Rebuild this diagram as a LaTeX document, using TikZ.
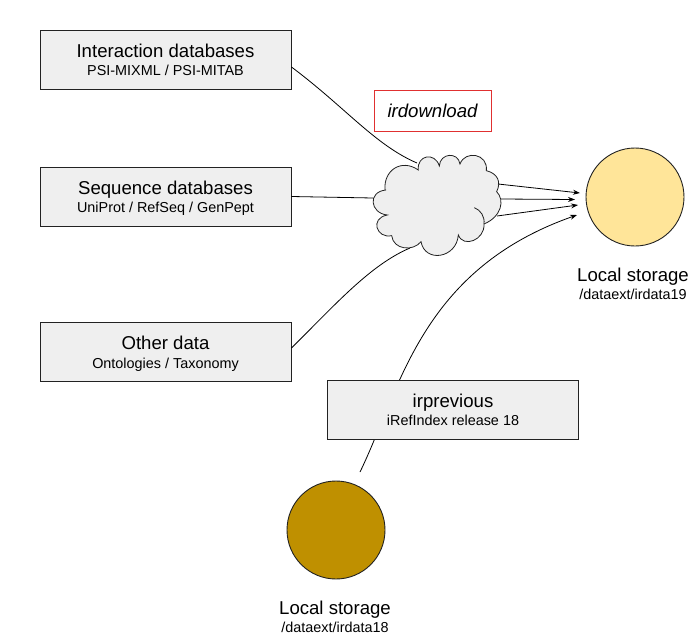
\documentclass[tikz,border=0pt]{standalone}
\usepackage{fontspec}
\setmainfont{Liberation Sans}
\usetikzlibrary{arrows.meta}
\definecolor{boxfill}{HTML}{EFEFEF}
\definecolor{lineink}{HTML}{222222}
\definecolor{paleyellow}{HTML}{FFE599}
\definecolor{darkgold}{HTML}{BF9000}
\definecolor{redline}{HTML}{E03030}
\tikzset{
  databox/.style={draw=lineink,fill=boxfill,line width=0.9pt,minimum width=251pt,minimum height=59pt,inner sep=0pt,align=center},
  storage/.style={circle,draw=lineink,line width=0.9pt,minimum size=98pt,inner sep=0pt},
  link/.style={draw=black,line width=0.8pt},
  feed/.style={link,-{Stealth[length=7pt,width=5pt]}},
  cloudline/.style={draw=lineink,line width=0.8pt},
  storelabel/.style={align=center,inner sep=0pt}
}
\newcommand{\bigline}[1]{{\fontsize{18.6}{21}\selectfont #1}}
\newcommand{\smallline}[1]{{\fontsize{14.4}{16}\selectfont #1}}
\newcommand{\twolines}[2]{\rule[-4pt]{0pt}{22pt}\bigline{#1}\\\rule[-4pt]{0pt}{17.5pt}\smallline{#2}}
\begin{document}
\begin{tikzpicture}[x=1pt,y=-1pt]
\useasboundingbox (0,0) rectangle (698,640);
\coordinate (cTop) at (417,163);
\coordinate (cLeft) at (373,198);
\coordinate (cBottom) at (410,248);
\coordinate (cOutA) at (498,184);
\coordinate (cOutB) at (501,199);
\coordinate (cOutC) at (497,216);
\coordinate (tipA) at (580,193);
\coordinate (tipB) at (575,199.5);
\coordinate (tipC) at (578,205);
\coordinate (tipD) at (577,215);
\coordinate (oldStart) at (360,472);
\node[databox] (interaction) at (165.5,59.5) {\twolines{Interaction databases}{PSI-MIXML / PSI-MITAB}};
\node[databox] (sequence) at (165.5,196.5) {\twolines{Sequence databases}{UniProt / RefSeq / GenPept}};
\node[databox] (other) at (165.5,352) {\twolines{Other data}{Ontologies / Taxonomy}};
\draw[link] (interaction.east |- 0,67) .. controls (345,107) and (375,145) .. (cTop);
\draw[link] (sequence.east) -- (cLeft);
\draw[link] (other.east |- 0,348) .. controls (335,305) and (370,265) .. (cBottom);
\draw[feed] (oldStart) .. controls (400,390) and (420,270) .. (tipD);
\node[databox] (previous) at (453,409.5) {\twolines{irprevious}{iRefIndex release 18}};
\begin{scope}[shift={(360,140)},scale=0.3333]
\draw[cloudline,fill=boxfill]
  (75,150) .. controls (70,90) and (125,55) .. (175,90)
  .. controls (170,45) and (225,35) .. (238,78)
  .. controls (240,38) and (295,35) .. (300,72)
  .. controls (315,30) and (385,40) .. (379,92)
  .. controls (412,100) and (425,125) .. (410,155)
  .. controls (435,180) and (425,230) .. (372,252)
  .. controls (375,300) and (310,325) .. (295,285)
  .. controls (290,355) and (195,370) .. (183,305)
  .. controls (160,335) and (100,330) .. (95,287)
  .. controls (50,297) and (28,235) .. (82,225)
  .. controls (30,220) and (22,155) .. (78,150) -- cycle;
\draw[cloudline]
  (343,203) .. controls (362,210) and (375,230) .. (372,252);
\end{scope}
\draw[feed] (cOutA) -- (tipA);
\draw[feed] (cOutB) -- (tipB);
\draw[feed] (cOutC) -- (tipC);
\node[draw=redline,line width=0.8pt,minimum width=117pt,minimum height=41pt,inner sep=0pt] (irdownload) at (432.5,110.5) {\bigline{\itshape irdownload}};
\node[storage,fill=paleyellow] (current) at (635,197) {};
\node[storage,fill=darkgold] (old) at (336,530) {};
\node[storelabel] (currentlabel) at (633,283.5) {\twolines{Local storage}{/dataext/irdata19}};
\node[storelabel] (oldlabel) at (335,616.5) {\twolines{Local storage}{/dataext/irdata18}};
\end{tikzpicture}
\end{document}
